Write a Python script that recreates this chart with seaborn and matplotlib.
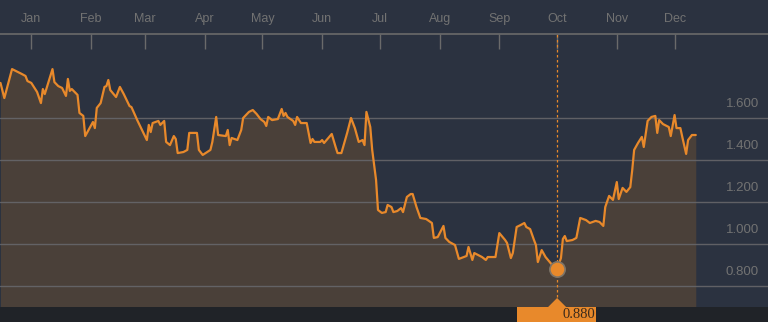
import numpy as np
import pandas as pd
import matplotlib
matplotlib.use("Agg")
import matplotlib.pyplot as plt
import matplotlib.dates as mdates
from matplotlib.patches import Rectangle, Polygon
from matplotlib import transforms
import seaborn as sns

# ---- data: day offset from 1 Jan, price ----
days = [-16, -14, -10, -5, -3, -2, 0, 3, 5, 6, 7, 11, 12, 14, 16, 18, 19, 20, 21, 24,
        25, 27, 28, 30, 32, 33, 34, 36, 38, 39, 40, 41, 44, 46, 48, 51, 52, 55, 58, 60,
        61, 62, 63, 66, 67, 69, 70, 72, 74, 75, 76, 79, 81, 82, 86, 87, 89, 93, 94, 96,
        97, 101, 102, 103, 104, 107, 109, 110, 113, 115, 117, 119, 121, 122, 123, 125, 128, 130, 131, 132,
        133, 136, 137, 138, 140, 143, 144, 145, 146, 147, 150, 151, 152, 156, 158, 159, 161, 164, 166, 168,
        170, 172, 173, 174, 176, 177, 179, 180, 182, 184, 185, 187, 188, 190, 192, 193, 195, 197, 198, 200,
        202, 205, 208, 209, 211, 214, 215, 217, 220, 222, 226, 227, 229, 230, 234, 236, 237, 241, 243, 246,
        247, 249, 250, 252, 254, 256, 257, 259, 261, 262, 263, 265, 267, 270, 273, 275, 276, 277, 278, 281,
        283, 285, 288, 290, 293, 295, 297, 298, 300, 302, 304, 305, 307, 309, 311, 312, 313, 315, 317, 318,
        320, 322, 324, 325, 326, 328, 331, 332, 334, 335, 337, 338, 340, 341, 343, 345]
prices = [1.767, 1.695, 1.833, 1.810, 1.800, 1.776, 1.767, 1.724, 1.671, 1.738, 1.714, 1.833, 1.771, 1.752, 1.743, 1.705, 1.786, 1.729, 1.738, 1.710,
          1.624, 1.610, 1.514, 1.548, 1.581, 1.552, 1.648, 1.671, 1.748, 1.752, 1.781, 1.733, 1.700, 1.748, 1.714, 1.657, 1.652, 1.590, 1.533, 1.495,
          1.567, 1.533, 1.576, 1.586, 1.567, 1.586, 1.486, 1.471, 1.514, 1.500, 1.433, 1.438, 1.448, 1.529, 1.529, 1.448, 1.424, 1.448, 1.486, 1.605,
          1.519, 1.514, 1.543, 1.471, 1.505, 1.495, 1.543, 1.600, 1.629, 1.638, 1.619, 1.595, 1.581, 1.562, 1.605, 1.590, 1.595, 1.643, 1.610, 1.624,
          1.605, 1.586, 1.567, 1.605, 1.576, 1.576, 1.529, 1.481, 1.500, 1.486, 1.486, 1.495, 1.481, 1.524, 1.462, 1.433, 1.433, 1.529, 1.600, 1.552,
          1.486, 1.495, 1.471, 1.629, 1.557, 1.448, 1.305, 1.162, 1.148, 1.152, 1.186, 1.176, 1.152, 1.157, 1.171, 1.152, 1.224, 1.238, 1.238, 1.176,
          1.124, 1.119, 1.100, 1.029, 1.033, 1.086, 1.029, 1.010, 0.995, 0.929, 0.943, 0.986, 0.924, 0.957, 0.938, 0.924, 0.938, 0.938, 1.052, 1.019,
          1.005, 0.933, 0.957, 1.081, 1.090, 1.100, 1.081, 1.071, 1.019, 0.995, 0.914, 0.971, 0.938, 0.905, 0.880, 0.933, 1.024, 1.038, 1.014, 1.019,
          1.029, 1.124, 1.114, 1.100, 1.110, 1.105, 1.086, 1.176, 1.229, 1.210, 1.295, 1.214, 1.267, 1.248, 1.271, 1.352, 1.448, 1.481, 1.510, 1.462,
          1.586, 1.605, 1.610, 1.529, 1.590, 1.571, 1.557, 1.514, 1.614, 1.552, 1.552, 1.510, 1.429, 1.495, 1.519, 1.519]
month_labels = ["Jan", "Feb", "Mar", "Apr", "May", "Jun", "Jul", "Aug", "Sep", "Oct", "Nov", "Dec"]
ytick_values = [0.8, 1.0, 1.2, 1.4, 1.6]
ytick_labels = ["0.800", "1.000", "1.200", "1.400", "1.600"]
highlight_label = "0.880"

base = pd.Timestamp("2018-01-01")
df = pd.DataFrame({"date": base + pd.to_timedelta(days, unit="D"), "price": prices})
month_starts = pd.date_range(base, periods=len(month_labels), freq="MS")

# ---- colors ----
BG = "#2b3240"
FILL = "#4a4039"
ORANGE = "#e8892b"
GRID = "#66666a"
TXT = "#727272"
BAND = "#202328"

sns.set_theme(style="dark")
plt.rcParams["font.family"] = ["Liberation Sans", "DejaVu Sans"]

W, H = 768, 322
fig = plt.figure(figsize=(W / 100, H / 100), dpi=100, facecolor=BG)
ax_bottom_px, ax_top_px = 15, 288  # from figure bottom
ax = fig.add_axes([0, ax_bottom_px / H, 1, (ax_top_px - ax_bottom_px) / H])
ax.set_facecolor(BG)

ax.set_xlim(base - pd.Timedelta(days=16.25), base + pd.Timedelta(days=382.5))
ax.set_ylim(0.7, 2.0)

ax.fill_between(df["date"], df["price"], 0.6, color=FILL, lw=0, zorder=1)
for v in ytick_values:
    ax.axhline(v, color=GRID, lw=1.0, zorder=2, alpha=0.9)
sns.lineplot(data=df, x="date", y="price", ax=ax, color=ORANGE, lw=1.6, zorder=4)

# highlight of minimum
imin = int(np.argmin(prices))
dmin, pmin = df["date"].iloc[imin], prices[imin]
ax.axvline(dmin, color=ORANGE, lw=0.9, ls=(0, (2, 2)), zorder=3)
ax.plot([dmin], [pmin], "o", ms=11, color=ORANGE, mec="#7d7468", mew=1.2, zorder=5)

# right-side value labels, placed above their gridlines
off = transforms.offset_copy(ax.get_yaxis_transform(), fig=fig, x=0, y=14, units="dots")
for v, lab in zip(ytick_values, ytick_labels):
    ax.text(0.988, v, lab, transform=off, ha="right", va="center", fontsize=9.5, color=TXT)

# month axis on top
ax.xaxis.tick_top()
ax.set_xticks(month_starts)
ax.set_xticklabels(month_labels)
ax.tick_params(axis="x", direction="in", length=11, width=1, color="#6a6a6a",
               labelsize=9, labelcolor=TXT, pad=6.5, top=True, bottom=False)
ax.set_yticks([])
ax.set_xlabel("")
ax.set_ylabel("")
ax.grid(False)
for s in ["left", "right", "bottom"]:
    ax.spines[s].set_visible(False)
ax.spines["top"].set_color("#6a6a6a")
ax.spines["top"].set_linewidth(1.2)

# bottom band and highlight label
fig.patches.append(Rectangle((0, 0), 1, ax_bottom_px / H, transform=fig.transFigure,
                             facecolor=BAND, edgecolor="none", zorder=0))
fig.canvas.draw()
px = ax.transData.transform((mdates.date2num(dmin), pmin))[0]
box = Rectangle(((px - 40) / W, 0), 79 / W, ax_bottom_px / H, transform=fig.transFigure,
                facecolor=ORANGE, edgecolor="none", zorder=6)
tri = Polygon([((px - 9) / W, ax_bottom_px / H), ((px + 9) / W, ax_bottom_px / H),
               (px / W, (ax_bottom_px + 9) / H)], closed=True, transform=fig.transFigure,
              facecolor=ORANGE, edgecolor="none", zorder=6)
fig.patches.extend([box, tri])
fig.text((px + 38) / W, 1 / H, highlight_label, ha="right", va="bottom", fontsize=10.5,
         family=["Liberation Serif", "DejaVu Serif"], color="#3a2a1c", zorder=7)

fig.savefig("out.png", dpi=100, facecolor=BG)
